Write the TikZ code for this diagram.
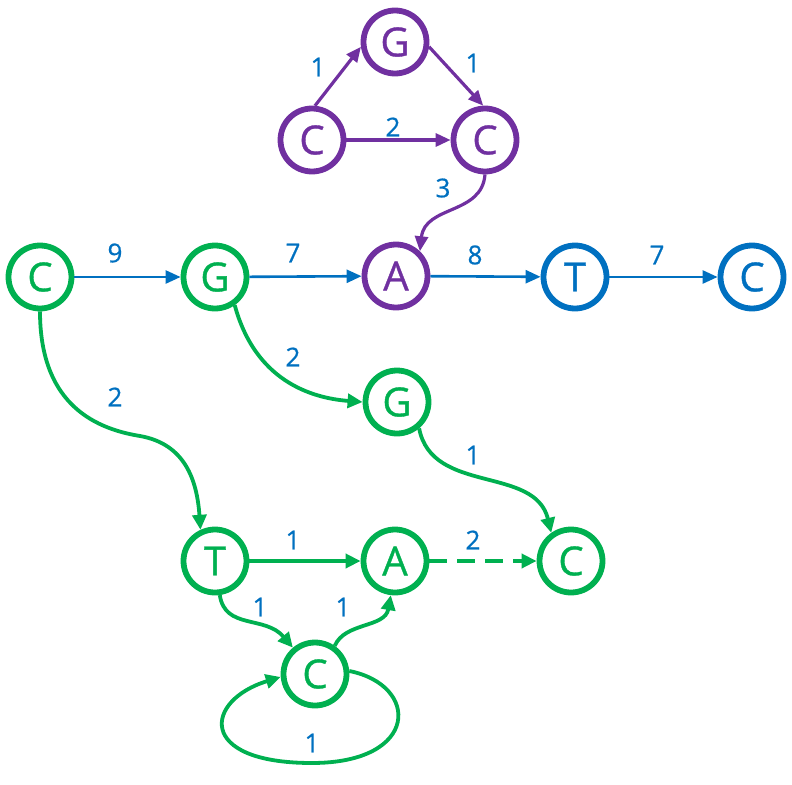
\documentclass[tikz,border=0pt]{standalone}
\usepackage{fontspec}
\setmainfont{Open Sans}
\newfontfamily\ndfont{Open Sans}[FakeBold=0.9]
\newfontfamily\lbfont{Open Sans}[FakeBold=0.7]
\usetikzlibrary{arrows.meta}
\definecolor{pur}{HTML}{7030A0}
\definecolor{grn}{HTML}{00B050}
\definecolor{blu}{HTML}{0070C0}
\begin{document}
\begin{tikzpicture}[x=1pt,y=-1pt,
  nd/.style={circle,draw,line width=5.8pt,minimum size=63pt,inner sep=0pt,font=\ndfont\fontsize{40}{42}\selectfont},
  pn/.style={nd,draw=pur,text=pur},
  gn/.style={nd,draw=grn,text=grn},
  bn/.style={nd,draw=blu,text=blu},
  lbl/.style={text=blu,font=\lbfont\fontsize{26}{28}\selectfont,inner sep=0pt},
  ba/.style={draw=blu,line width=2.6pt,-{Triangle[length=15pt,width=13pt]}},
  pa/.style={draw=pur,line width=3.2pt,-{Triangle[length=15pt,width=13pt]}},
  ga/.style={draw=grn,line width=3.8pt,-{Triangle[length=15pt,width=14pt]}},
]
\useasboundingbox (0,0) rectangle (792,784);
% nodes
\node[pn] (pg)  at (395,42)  {G};
\node[pn] (pcl) at (312,140) {C};
\node[pn] (pcr) at (485,140) {C};
\node[pn] (pa)  at (396,276) {A};
\node[gn] (gc)  at (40,277)  {C};
\node[gn] (gg)  at (215,277) {G};
\node[bn] (bt)  at (575,277) {T};
\node[bn] (bc)  at (752,277) {C};
\node[gn] (gg2) at (397,402) {G};
\node[gn] (gt)  at (215,561) {T};
\node[gn] (ga)  at (395,561) {A};
\node[gn] (gcr) at (571,561) {C};
\node[gn] (gcb) at (315,674) {C};
% purple edges
\draw[pa] (pcl.85) -- (pg.188);
\draw[pa] (pg.-8) -- (pcr.93);
\draw[pa] (pcl) -- (pcr);
\draw[pa] (pcr.-90) .. controls (482,215) and (425,205) .. (pa.46);
% blue edges
\draw[ba] (gc) -- (gg);
\draw[ba] (gg) -- (pa);
\draw[ba] (pa) -- (bt);
\draw[ba] (bt) -- (bc);
% green edges
\draw[ga] (gc.-90) .. controls (40,400) and (90,428) .. (140,436) .. controls (185,444) and (197,480) .. (gt.115);
\draw[ga] (gg.-55) .. controls (255,380) and (310,398) .. (gg2.west);
\draw[ga] (gg2.-50) .. controls (432,495) and (535,465) .. (gcr.125);
\draw[ga,dash pattern=on 18pt off 10pt] (ga) -- (gcr);
\draw[ga] (gt) -- (ga);
\draw[ga] (gt.-82) .. controls (225,630) and (265,615) .. (gcb.130);
\draw[ga] (gcb.55) .. controls (345,622) and (385,628) .. (ga.-97);
\draw[ga] (gcb.5) .. controls (420,685) and (420,763) .. (312,763) .. controls (195,763) and (205,700) .. (gcb.185);
% labels
\node[lbl] (l1)  at (318,67)  {1};
\node[lbl] (l2)  at (473,63)  {1};
\node[lbl] (l3)  at (393,127) {2};
\node[lbl] (l4)  at (443,188) {3};
\node[lbl] (l5)  at (115,253) {9};
\node[lbl] (l6)  at (293,253) {7};
\node[lbl] (l7)  at (475,255) {8};
\node[lbl] (l8)  at (657,255) {7};
\node[lbl] (l9)  at (293,357) {2};
\node[lbl] (l10) at (115,397) {2};
\node[lbl] (l11) at (473,455) {1};
\node[lbl] (l12) at (473,540) {2};
\node[lbl] (l13) at (293,540) {1};
\node[lbl] (l14) at (260,607) {1};
\node[lbl] (l15) at (343,607) {1};
\node[lbl] (l16) at (312,743) {1};
\end{tikzpicture}
\end{document}
